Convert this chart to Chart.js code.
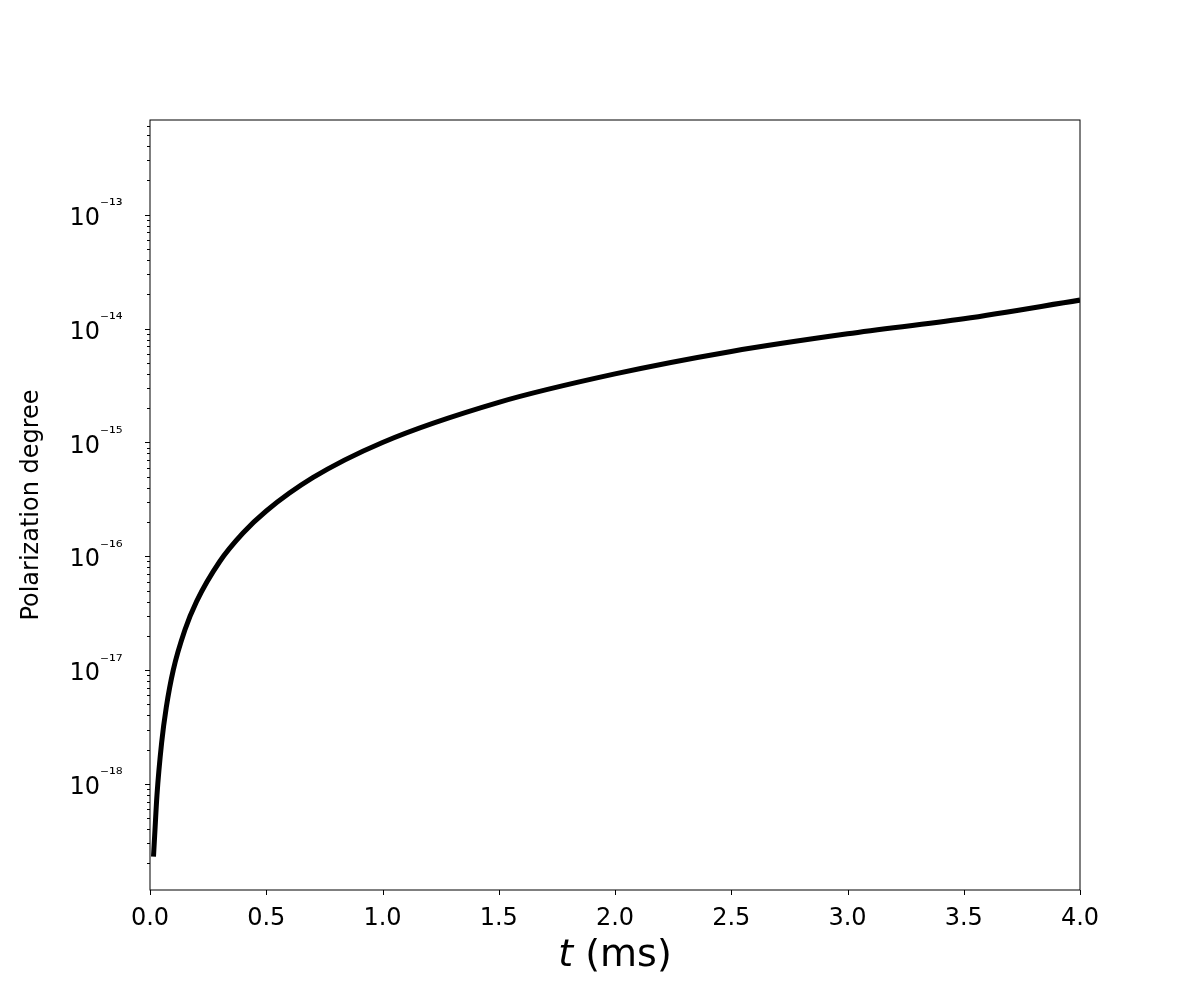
<!DOCTYPE html>
<html>
<head>
<meta charset="utf-8">
<script src="https://cdn.jsdelivr.net/npm/chart.js@4.4.0/dist/chart.umd.min.js"></script>
<style>
  body { margin: 0; background: #fff; }
  #wrap { width: 1200px; height: 1000px; }
</style>
</head>
<body>
<div id="wrap"><canvas id="c" width="1200" height="1000"></canvas></div>
<script>
// time in ms
const times = [0.015, 0.02, 0.03, 0.05, 0.07, 0.1, 0.15, 0.2, 0.3, 0.4, 0.5, 0.7, 1.0, 1.5, 2.0, 2.5, 3.0, 3.5, 4.0];
// polarization degree
const polarization = [2.3e-19, 3.5e-19, 8e-19, 2.3e-18, 4.7e-18, 1e-17, 2.25e-17, 4e-17, 9e-17, 1.6e-16, 2.5e-16,
  4.9e-16, 1e-15, 2.25e-15, 4e-15, 6.3e-15, 9e-15, 1.22e-14, 1.78e-14];
const xTicks = [0.0, 0.5, 1.0, 1.5, 2.0, 2.5, 3.0, 3.5, 4.0];
const yDecades = [-19, -18, -17, -16, -15, -14, -13, -12];
const yLabels = { '-18': '10⁻¹⁸', '-17': '10⁻¹⁷', '-16': '10⁻¹⁶', '-15': '10⁻¹⁵', '-14': '10⁻¹⁴', '-13': '10⁻¹³' };

const font = 'DejaVu Sans';

const tickMarks = {
  id: 'tickMarks',
  afterDraw(chart) {
    const { ctx, chartArea: a, scales: { x, y } } = chart;
    ctx.save();
    ctx.strokeStyle = '#000';
    ctx.lineWidth = 1;
    ctx.strokeRect(a.left, a.top, a.right - a.left, a.bottom - a.top);
    ctx.beginPath();
    xTicks.forEach(v => {
      const px = Math.round(x.getPixelForValue(v)) + 0.5;
      ctx.moveTo(px, a.bottom); ctx.lineTo(px, a.bottom + 5);
    });
    yDecades.forEach(d => {
      for (let m = 1; m < 10; m++) {
        const v = m * Math.pow(10, d);
        if (v < y.min || v > y.max) continue;
        const py = Math.round(y.getPixelForValue(v)) + 0.5;
        ctx.moveTo(a.left, py); ctx.lineTo(a.left - (m === 1 ? 5 : 3), py);
      }
    });
    ctx.stroke();
    // y labels
    ctx.fillStyle = '#000';
    ctx.font = '24px "' + font + '"';
    ctx.textAlign = 'right';
    ctx.textBaseline = 'middle';
    Object.keys(yLabels).forEach(k => {
      const py = y.getPixelForValue(Math.pow(10, Number(k)));
      ctx.fillText('10', a.left - 50, py + 4);
      ctx.font = '17px "' + font + '"';
      ctx.textAlign = 'left';
      ctx.fillText(yLabels[k].slice(2), a.left - 50, py - 8);
      ctx.font = '24px "' + font + '"';
      ctx.textAlign = 'right';
    });
    // x title with italic t
    ctx.textBaseline = 'alphabetic';
    ctx.textAlign = 'left';
    ctx.font = 'italic 38px "' + font + '"';
    const tw = ctx.measureText('t').width;
    ctx.font = '38px "' + font + '"';
    const rest = ' (ms)';
    const rw = ctx.measureText(rest).width;
    const cx = (a.left + a.right) / 2;
    const sx = cx - (tw + rw) / 2;
    ctx.font = 'italic 38px "' + font + '"';
    ctx.fillText('t', sx, 966);
    ctx.font = '38px "' + font + '"';
    ctx.fillText(rest, sx + tw, 966);
    // y title
    ctx.translate(40, (a.top + a.bottom) / 2);
    ctx.rotate(-Math.PI / 2);
    ctx.textAlign = 'center';
    ctx.textBaseline = 'middle';
    ctx.font = '24px "' + font + '"';
    ctx.fillText('Polarization degree', 0, -8);
    ctx.restore();
  }
};

new Chart(document.getElementById('c'), {
  type: 'line',
  data: {
    datasets: [{
      data: times.map((t, i) => ({ x: t, y: polarization[i] })),
      borderColor: '#000',
      borderWidth: 5,
      pointRadius: 0,
      cubicInterpolationMode: 'monotone',
      fill: false
    }]
  },
  options: {
    responsive: false,
    animation: false,
    layout: { padding: { top: 120, right: 120, bottom: 0, left: 0 } },
    plugins: { legend: { display: false }, tooltip: { enabled: false } },
    scales: {
      x: {
        type: 'linear',
        min: 0, max: 4,
        grid: { display: false },
        border: { display: false },
        afterBuildTicks: s => { s.ticks = xTicks.map(v => ({ value: v })); },
        afterFit: s => { s.height = 110; },
        ticks: {
          color: '#000',
          padding: 6,
          font: { family: font, size: 24 },
          maxRotation: 0,
          callback: v => v.toFixed(1)
        }
      },
      y: {
        type: 'logarithmic',
        min: 1.17e-19, max: 6.8e-13,
        grid: { display: false },
        border: { display: false },
        afterFit: s => { s.width = 150; },
        ticks: { display: false }
      }
    }
  },
  plugins: [tickMarks]
});
</script>
</body>
</html>
